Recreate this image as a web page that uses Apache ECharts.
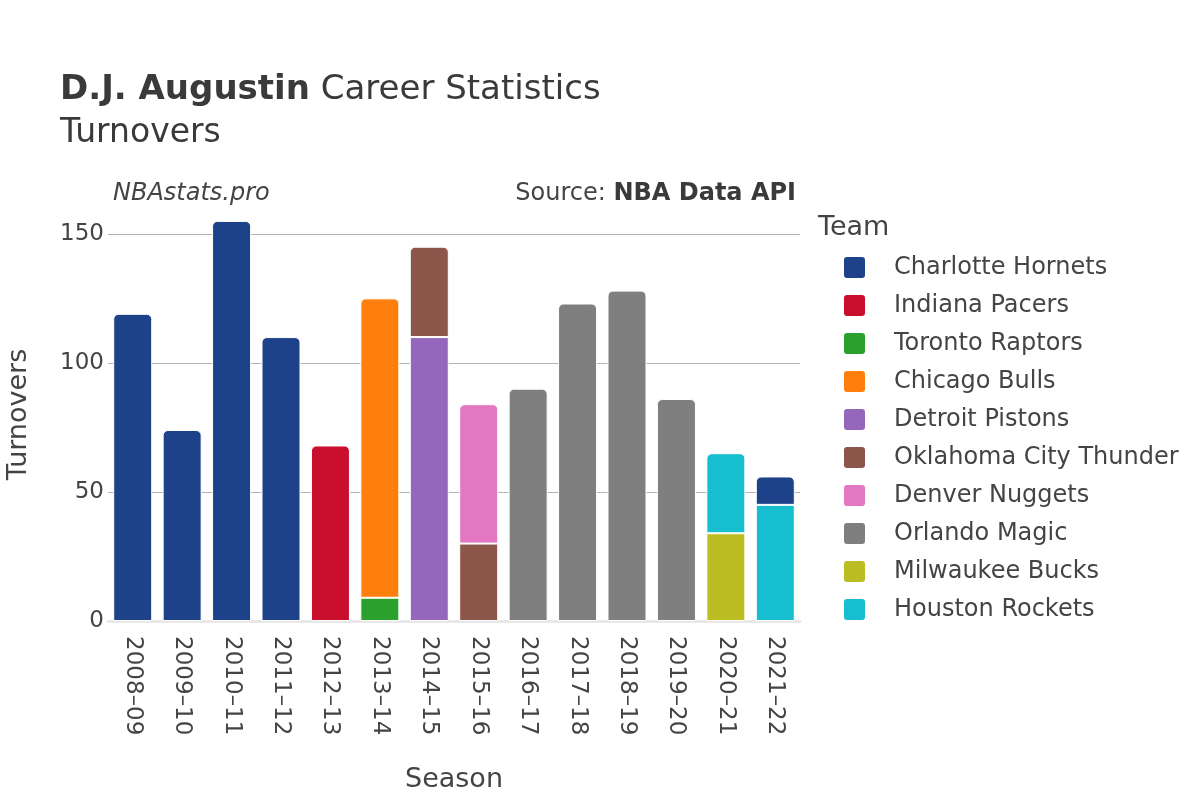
<!DOCTYPE html>
<html>
<head>
<meta charset="utf-8">
<script src="https://cdn.jsdelivr.net/npm/echarts@6/dist/echarts.min.js"></script>
<style>
html,body{margin:0;padding:0;background:#fff;}
#chart{width:1200px;height:800px;}
</style>
</head>
<body>
<div id="chart"></div>
<script>
const seasons = ['2008–09','2009–10','2010–11','2011–12','2012–13','2013–14','2014–15','2015–16','2016–17','2017–18','2018–19','2019–20','2020–21','2021–22'];
const teamNames = ['Charlotte Hornets','Indiana Pacers','Toronto Raptors','Chicago Bulls','Detroit Pistons','Oklahoma City Thunder','Denver Nuggets','Orlando Magic','Milwaukee Bucks','Houston Rockets'];
const teamColors = ['#1d428a','#c8102e','#2ca02c','#ff7f0e','#9467bd','#8c564b','#e377c2','#7f7f7f','#bcbd22','#17becf'];

const hornets  = [119, 74, 155, 110, null, null, null, null, null, null, null, null, null, null];
const pacers   = [null, null, null, null, 68, null, null, null, null, null, null, null, null, null];
const raptors  = [null, null, null, null, null, 9, null, null, null, null, null, null, null, null];
const bulls    = [null, null, null, null, null, 116, null, null, null, null, null, null, null, null];
const pistons  = [null, null, null, null, null, null, 110, null, null, null, null, null, null, null];
const thunder  = [null, null, null, null, null, null, 35, 30, null, null, null, null, null, null];
const nuggets  = [null, null, null, null, null, null, null, 54, null, null, null, null, null, null];
const magic    = [null, null, null, null, null, null, null, null, 90, 123, 128, 86, null, null];
const bucks    = [null, null, null, null, null, null, null, null, null, null, null, null, 34, null];
const rockets  = [null, null, null, null, null, null, null, null, null, null, null, null, 31, 45];
// second Hornets stint, stacked above the Rockets segment in 2021–22
const hornetsReturn = [null, null, null, null, null, null, null, null, null, null, null, null, null, 11];

const yTicks = [0, 50, 100, 150];

const stackSeries = [
  {name: teamNames[0], color: teamColors[0], data: hornets},
  {name: teamNames[1], color: teamColors[1], data: pacers},
  {name: teamNames[2], color: teamColors[2], data: raptors},
  {name: teamNames[3], color: teamColors[3], data: bulls},
  {name: teamNames[4], color: teamColors[4], data: pistons},
  {name: teamNames[5], color: teamColors[5], data: thunder},
  {name: teamNames[6], color: teamColors[6], data: nuggets},
  {name: teamNames[7], color: teamColors[7], data: magic},
  {name: teamNames[8], color: teamColors[8], data: bucks},
  {name: teamNames[9], color: teamColors[9], data: rockets},
  {name: teamNames[0], color: teamColors[0], data: hornetsReturn}
];

// find top segment per season
const topIdx = seasons.map((s, i) => {
  let t = -1;
  stackSeries.forEach((ser, k) => { if (ser.data[i] != null) t = k; });
  return t;
});

const R = 5;
const series = stackSeries.map((ser, k) => ({
  name: ser.name,
  type: 'bar',
  stack: 'total',
  barWidth: 39,
  itemStyle: {color: ser.color, borderColor: '#ffffff', borderWidth: 1},
  emphasis: {disabled: true},
  data: ser.data.map((v, i) => v == null ? null : (topIdx[i] === k
      ? {value: v, itemStyle: {borderRadius: [R, R, 0, 0]}}
      : v))
}));

const FONT = 'DejaVu Sans';
const TXT = '#444';
const ICON = 'path://M4,0 L19,0 Q23,0 23,4 L23,19 Q23,23 19,23 L4,23 Q0,23 0,19 L0,4 Q0,0 4,0 Z';

const chart = echarts.init(document.getElementById('chart'), null, {renderer: 'canvas'});
chart.setOption({
  backgroundColor: '#ffffff',
  animation: false,
  textStyle: {fontFamily: FONT, color: TXT},
  title: [
    {
      text: '{b|D.J. Augustin} {n|Career Statistics}',
      left: 60, top: 73, padding: 0,
      textStyle: {
        fontSize: 34, fontWeight: 'normal',
        rich: {
          b: {fontFamily: FONT, fontSize: 34, fontWeight: 'bold', color: '#3a3a3a'},
          n: {fontFamily: FONT, fontSize: 34, fontWeight: 'normal', color: '#3a3a3a'}
        }
      }
    },
    {
      text: 'Turnovers', left: 60, top: 117, padding: 0,
      textStyle: {fontFamily: FONT, fontSize: 33, fontWeight: 'normal', color: '#3a3a3a'}
    },
    {
      text: 'NBAstats.pro', left: 113, top: 182, padding: 0,
      textStyle: {fontFamily: FONT, fontSize: 24, fontStyle: 'italic', fontWeight: 'normal', color: TXT}
    },
    {
      text: 'Source: {b|NBA Data API}', right: 404, top: 182, padding: 0,
      textStyle: {
        fontFamily: FONT, fontSize: 24, fontWeight: 'normal', color: TXT,
        rich: {b: {fontFamily: FONT, fontSize: 24, fontWeight: 'bold', color: '#3a3a3a'}}
      }
    },
    {
      text: 'Team', left: 818, top: 214, padding: 0,
      textStyle: {fontFamily: FONT, fontSize: 27, fontWeight: 'normal', color: TXT}
    }
  ],
  legend: {
    data: teamNames,
    orient: 'vertical',
    left: 842, top: 255, padding: 0,
    itemWidth: 23, itemHeight: 23,
    itemGap: 13,
    icon: ICON,
    selectedMode: false,
    textStyle: {fontFamily: FONT, fontSize: 24, color: TXT, padding: [0, 0, 0, 23]}
  },
  grid: {left: 108, right: 400, top: 208, bottom: 179, containLabel: false, outerBoundsMode: 'none'},
  xAxis: {
    type: 'category',
    data: seasons,
    name: 'Season',
    nameLocation: 'middle',
    nameGap: 145,
    nameTextStyle: {fontFamily: FONT, fontSize: 27, color: TXT},
    axisLine: {show: true, lineStyle: {color: '#e8e8e8', width: 3}},
    axisTick: {show: false},
    axisLabel: {rotate: -90, fontFamily: FONT, fontSize: 23, color: TXT, margin: 15, interval: 0}
  },
  yAxis: {
    type: 'value',
    min: 0, max: 160, interval: 50,
    name: 'Turnovers',
    nameLocation: 'middle',
    nameGap: 76,
    nameTextStyle: {fontFamily: FONT, fontSize: 27, color: TXT},
    axisLine: {show: false},
    axisTick: {show: false},
    axisLabel: {
      fontFamily: FONT, fontSize: 23, color: TXT, margin: 4,
      formatter: v => yTicks.indexOf(v) >= 0 ? String(v) : ''
    },
    splitLine: {show: true, showMaxLine: false, showMinLine: false, lineStyle: {color: '#b4b4b4', width: 1}}
  },
  series: series
});
</script>
</body>
</html>
